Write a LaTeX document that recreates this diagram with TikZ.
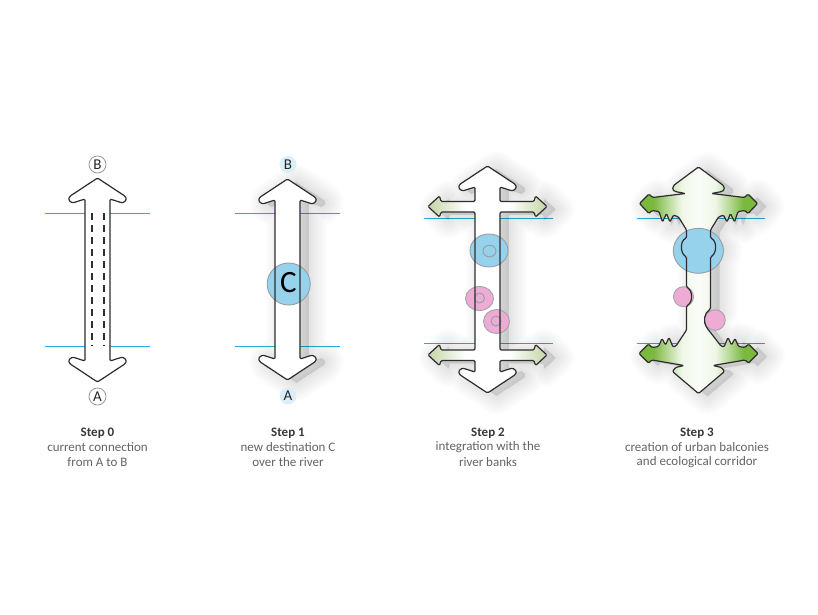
\documentclass[tikz,border=0pt]{standalone}
\usepackage{fontspec}
\setmainfont{Carlito}
\setsansfont{Carlito}
\definecolor{riverC}{RGB}{41,171,226}
\definecolor{oliveC}{RGB}{196,212,166}
\definecolor{greenC}{RGB}{122,184,62}
\definecolor{blueC}{RGB}{150,210,235}
\definecolor{pinkC}{RGB}{238,172,212}
\definecolor{ringC}{RGB}{150,158,165}
\definecolor{lineC}{RGB}{45,45,45}
\definecolor{txtC}{RGB}{100,100,100}
\pgfdeclarehorizontalshading{olivearm}{100bp}{color(0bp)=(oliveC); color(25bp)=(oliveC); color(41bp)=(white); color(59bp)=(white); color(75bp)=(oliveC); color(100bp)=(oliveC)}
\pgfdeclarehorizontalshading{greenarm}{100bp}{color(0bp)=(greenC); color(25bp)=(greenC); color(31bp)=(greenC); color(37bp)=(greenC!55!white); color(43bp)=(greenC!12!white); color(50bp)=(greenC!3!white); color(57bp)=(greenC!12!white); color(63bp)=(greenC!55!white); color(69bp)=(greenC); color(75bp)=(greenC); color(100bp)=(greenC)}
\tikzset{shp/.style={}}
\newcommand\dblarrow[3]{%
\path[shp] ({#1},{#2}) -- ({#1+28},{#2+18.5}) -- ({#1+29},{#2+22}) -- ({#1+25},{#2+25}) -- ({#1+12.5},{#2+21}) -- ({#1+12.5},{#3-21}) -- ({#1+25},{#3-25}) -- ({#1+29},{#3-22}) -- ({#1+28},{#3-18.5}) -- ({#1},{#3}) -- ({#1-28},{#3-18.5}) -- ({#1-29},{#3-22}) -- ({#1-25},{#3-25}) -- ({#1-12.5},{#3-21}) -- ({#1-12.5},{#2+21}) -- ({#1-25},{#2+25}) -- ({#1-29},{#2+22}) -- ({#1-28},{#2+18.5}) -- cycle;}
\newcommand\shapeTwo{%
\path[shp] (487.5,166) -- (515.5,184.5) -- (516.5,188) -- (512.5,191) -- (500,187)
 -- (500,201.5) -- (534,201.5) -- (535.5,196) -- (547,206.5) -- (535.5,217) -- (534,212) -- (500,212)
 -- (500,350) -- (534,350) -- (535.5,344.5) -- (547,355) -- (535.5,365.5) -- (534,360.5) -- (500,360.5)
 -- (500,372) -- (512.5,368) -- (516.5,371) -- (515.5,374.5) -- (487.5,393)
 -- (459.5,374.5) -- (458.5,371) -- (462.5,368) -- (475,372)
 -- (475,360.5) -- (441,360.5) -- (439.5,365.5) -- (428,355) -- (439.5,344.5) -- (441,350) -- (475,350)
 -- (475,212) -- (441,212) -- (439.5,217) -- (428,206.5) -- (439.5,196) -- (441,201.5) -- (475,201.5)
 -- (475,187) -- (462.5,191) -- (458.5,188) -- (459.5,184.5) -- cycle;}
\newcommand\shapeThree{%
\path[shp] (698.5,167) -- (723.5,185.5) -- (724.5,189.5) -- (722,191.5) -- (711.5,193.5)
 -- (744.5,197.5) -- (748,194) -- (757.5,203.5) -- (748,213.5) -- (745,210.5)
 -- (738,211.5) -- (734.5,222) -- (730.5,213.5) -- (727,222) -- (723.5,215)
 -- (718.5,217) -- (710.5,230) -- (710.5,238) .. controls (717,241) and (717,253) .. (710.5,257)
 -- (710.5,309) .. controls (704,313) and (703,322) .. (707,328)
 -- (721,346) -- (724,347) -- (728,337.5) -- (731.5,345) -- (735,338.5) -- (738.5,346.5) -- (745,347.5)
 -- (748.5,344) -- (758,353.5) -- (748.5,363) -- (745,360) -- (713,365.5) -- (721.5,367.5) -- (724.5,371.5)
 -- (698.5,393.5)
 -- (672.5,371.5) -- (675.5,367.5) -- (684,365.5) -- (652,360) -- (648.5,363) -- (639,353.5) -- (648.5,344)
 -- (652,347.5) -- (658.5,346.5) -- (662,338.5) -- (665.5,345) -- (669,337.5) -- (673,347) -- (676,346)
 -- (686.5,330) -- (686.5,306) .. controls (693,302) and (693,291) .. (686.5,287)
 -- (686.5,257) .. controls (680,253) and (680,241) .. (686.5,238) -- (686.5,230)
 -- (678.5,217) -- (673.5,215) -- (670,222) -- (666.5,213.5) -- (662.5,222) -- (659,211.5)
 -- (652,210.5) -- (649,213.5) -- (639.5,203.5) -- (649,194) -- (652.5,197.5) -- (685.5,193.5)
 -- (675,191.5) -- (672.5,189.5) -- (673.5,185.5) -- cycle;}
\newcommand\withshadow[1]{%
 \begin{scope}[shift={(9,3)}]
 \foreach \w in {36,32,28,24,20,16,12,8,4}{%
   \begin{scope}[shp/.style={fill=black,draw=black,opacity=0.011,line width=\w pt,line join=round}] #1 \end{scope}}
 \end{scope}}
\newcommand\filled[2]{\begin{scope}[shp/.style={#1}] #2 \end{scope}}
\begin{document}
\begin{tikzpicture}[x=1pt,y=-1pt,
  outl/.style={draw=lineC, line width=1.2pt, line join=round, rounded corners=1.2pt},
  river/.style={draw=riverC, line width=1pt},
  ttl/.style={font=\bfseries\fontsize{13}{15}\selectfont, text=black!78, inner sep=0pt},
  sub/.style={font=\fontsize{13}{15}\selectfont, text=txtC, inner sep=0pt},
  letA/.style={circle, draw=black!40, fill=white, line width=0.8pt, minimum size=17pt, inner sep=0pt, font=\fontsize{15}{15}\selectfont, text=black!85},
  letB/.style={circle, fill=blueC!35!white, minimum size=17pt, inner sep=0pt, font=\fontsize{15}{15}\selectfont, text=black!85},
  bluecirc/.style={fill=blueC, draw=ringC, line width=0.9pt},
  pinkcirc/.style={fill=pinkC, draw=ringC!80!pinkC, line width=0.9pt},
  ring/.style={draw=ringC, line width=0.9pt}]
\useasboundingbox (0,0) rectangle (818,614);
\fill[white] (0,0) rectangle (818,614);

% ---------- Step 0 ----------
\coordinate (r0a) at (45,213); \coordinate (r0b) at (150,213);
\coordinate (r0c) at (45,346); \coordinate (r0d) at (150,346);
\draw[river] (r0a) -- (r0b); \draw[river] (r0c) -- (r0d);
\filled{fill=white}{\dblarrow{97.5}{178}{382}}
\coordinate (d0a) at (92,213); \coordinate (d0b) at (92,346);
\coordinate (d0c) at (104,213); \coordinate (d0d) at (104,346);
\draw[lineC, line width=1.2pt, dash pattern=on 7pt off 5pt] (d0a) -- (d0b);
\draw[lineC, line width=1.2pt, dash pattern=on 7pt off 5pt] (d0c) -- (d0d);
\filled{outl}{\dblarrow{97.5}{178}{382}}
\node[letA] (B0) at (97.5,164.5) {B};
\node[letA] (A0) at (97.5,396.5) {A};

% ---------- Step 1 ----------
\coordinate (r1a) at (235,213); \coordinate (r1b) at (340,213);
\coordinate (r1c) at (235,346); \coordinate (r1d) at (340,346);
\draw[river] (r1a) -- (r1b); \draw[river] (r1c) -- (r1d);
\withshadow{\dblarrow{287.5}{179}{380}}
\filled{fill=white}{\dblarrow{287.5}{179}{380}}
\fill[bluecirc] (288.7,284) ellipse [x radius=21.5, y radius=21];
\filled{outl}{\dblarrow{287.5}{179}{380}}
\node[font=\fontsize{31}{31}\selectfont, inner sep=0pt, text=black] (C1) at (288.5,283) {C};
\node[letB] (B1) at (288,164.5) {B};
\node[letB] (A1) at (288,396) {A};

% ---------- Step 2 ----------
\coordinate (r2a) at (424,218.3); \coordinate (r2b) at (553,218.3);
\coordinate (r2c) at (424,343.3); \coordinate (r2d) at (553,343.3);
\draw[river] (r2a) -- (r2b); \draw[river] (r2c) -- (r2d);
\withshadow{\shapeTwo}
\filled{shading=olivearm}{\shapeTwo}
\fill[bluecirc] (489,250.5) ellipse [x radius=19, y radius=16.5];
\draw[ring] (489.5,251) ellipse [x radius=6.5, y radius=5.8];
\fill[pinkcirc] (479.5,298.5) ellipse [x radius=14, y radius=12];
\draw[ring] (479.5,298) circle [radius=5];
\fill[pinkcirc] (496.5,321.5) ellipse [x radius=13, y radius=12];
\draw[ring] (496,321) circle [radius=5];
\filled{outl}{\shapeTwo}

% ---------- Step 3 ----------
\coordinate (r3a) at (636.5,218.3); \coordinate (r3b) at (765,218.3);
\coordinate (r3c) at (636.5,343.3); \coordinate (r3d) at (765,343.3);
\draw[river] (r3a) -- (r3b); \draw[river] (r3c) -- (r3d);
\withshadow{\shapeThree}
\filled{shading=greenarm}{\shapeThree}
\fill[bluecirc] (698.3,250.8) ellipse [x radius=25, y radius=22.5];
\fill[pinkcirc] (683.5,296.7) circle [radius=10];
\fill[pinkcirc] (715,320) circle [radius=10.3];
\filled{outl}{\shapeThree}

% ---------- captions ----------
\node[ttl] (t0) at (97.5,433) {Step 0};
\node[sub] (s0a) at (97.5,447.5) {current connection};
\node[sub] (s0b) at (97.5,462) {from A to B};
\node[ttl] (t1) at (288,433) {Step 1};
\node[sub] (s1a) at (288,447.5) {new destination C};
\node[sub] (s1b) at (288,462) {over the river};
\node[ttl] (t2) at (488,433) {Step 2};
\node[sub] (s2a) at (488,447.5) {integration with the};
\node[sub] (s2b) at (488,462) {river banks};
\node[ttl] (t3) at (697,433) {Step 3};
\node[sub] (s3a) at (697,447.5) {creation of urban balconies};
\node[sub] (s3b) at (697,462) {and ecological corridor};
\end{tikzpicture}
\end{document}
